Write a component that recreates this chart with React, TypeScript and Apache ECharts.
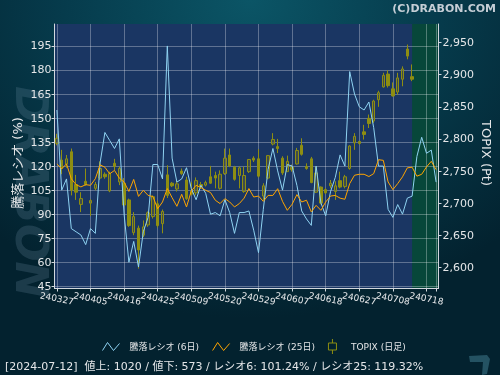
import React, { useEffect, useRef } from 'react';
import * as echarts from 'echarts';

const dates = [
  '240327','240328','240329','240401','240402','240403','240404','240405',
  '240408','240409','240410','240411','240412','240415','240416','240417','240418','240419',
  '240422','240423','240424','240425','240426','240430','240501','240502','240507','240508','240509','240510',
  '240513','240514','240515','240516','240517','240520','240521','240522','240523','240524',
  '240527','240528','240529','240530','240531','240603','240604','240605','240606','240607',
  '240610','240611','240612','240613','240614','240617','240618','240619','240620','240621',
  '240624','240625','240626','240627','240628','240701','240702','240703','240704','240705',
  '240708','240709','240710','240711','240712','240716','240717','240718','240719','240722'
];

const ratio6 = [
  155, 105, 112, 81, 79, 77, 71, 81, 78, 122,
  141, 136, 131, 137, 90, 60, 73, 57, 79, 88,
  121, 121, 112, 195, 125, 110, 112, 119, 106, 99,
  108, 103, 90, 91, 89, 99, 91, 78, 91, 91,
  92, 80, 66, 93, 118, 131, 117, 105, 121, 120,
  108, 92, 87, 83, 120, 97, 89, 104, 113, 127,
  120, 179, 165, 157, 155, 160, 144, 120, 120, 93,
  88, 96, 90, 100, 101.24, 126, 138, 128, 130, 110
];

const ratio25 = [
  121.4, 118.3, 121.4, 112.1, 108.4, 107, 108.4, 108, 112.1, 120.8,
  119.3, 115.2, 117.3, 112.5, 110, 104.2, 111.7, 101.1, 104.9, 101.7,
  101, 93.4, 97.6, 106, 100.3, 94.9, 102.4, 94.5, 104.5, 108,
  106.6, 104.9, 103.5, 98.7, 96.6, 99.7, 97.6, 94.5, 96.6, 100,
  106, 100.7, 101.3, 98, 101.7, 101.7, 105.9, 98, 92.4, 96.2,
  102.2, 97.6, 98.7, 91.4, 95.5, 92.4, 97.6, 101.3, 101.7, 100,
  99.3, 109.1, 114.3, 114.9, 114.9, 113.5, 115.3, 124, 123.6, 110.1,
  105.3, 109.1, 113.3, 118.9, 119.32, 113.7, 114.9, 119.5, 123, 117.8
];

// [open, close, low, high]
const topix = [
  [2793, 2801, 2790, 2808], [2767, 2754, 2745, 2783], [2761, 2769, 2755, 2775], [2780, 2720, 2712, 2785],
  [2729, 2717, 2705, 2744], [2698, 2707, 2686, 2717], [2734, 2729, 2727, 2754], [2700, 2704, 2680, 2706],
  [2723, 2729, 2720, 2733], [2739, 2754, 2736, 2765], [2745, 2741, 2738, 2748], [2719, 2746, 2717, 2749],
  [2762, 2757, 2751, 2769], [2733, 2754, 2728, 2757], [2731, 2697, 2695, 2739], [2705, 2665, 2663, 2707],
  [2654, 2679, 2650, 2686], [2661, 2627, 2598, 2665], [2650, 2663, 2647, 2673], [2666, 2685, 2663, 2687],
  [2679, 2710, 2676, 2712], [2699, 2665, 2662, 2704], [2668, 2687, 2653, 2690], [2744, 2712, 2708, 2759],
  [2731, 2727, 2725, 2733], [2722, 2730, 2718, 2735], [2750, 2746, 2744, 2754], [2736, 2707, 2705, 2741],
  [2718, 2714, 2712, 2733], [2716, 2735, 2712, 2740], [2729, 2726, 2722, 2733], [2728, 2732, 2726, 2735],
  [2741, 2731, 2730, 2758], [2743, 2739, 2723, 2749], [2723, 2745, 2721, 2751], [2746, 2770, 2744, 2785],
  [2775, 2758, 2756, 2785], [2756, 2737, 2735, 2758], [2743, 2755, 2723, 2757], [2718, 2743, 2716, 2757],
  [2749, 2768, 2747, 2768], [2770, 2767, 2764, 2773], [2769, 2742, 2740, 2784], [2711, 2727, 2705, 2731],
  [2739, 2774, 2737, 2775], [2792, 2799, 2790, 2809], [2788, 2785, 2778, 2800], [2770, 2747, 2744, 2773],
  [2749, 2765, 2749, 2774], [2756, 2752, 2749, 2760], [2761, 2782, 2760, 2786], [2790, 2776, 2774, 2801],
  [2757, 2754, 2752, 2762], [2769, 2732, 2731, 2772], [2717, 2747, 2716, 2757], [2725, 2700, 2698, 2726],
  [2721, 2716, 2714, 2723], [2727, 2731, 2723, 2736], [2718, 2727, 2705, 2734], [2735, 2725, 2723, 2749],
  [2726, 2741, 2723, 2744], [2754, 2789, 2752, 2790], [2794, 2804, 2783, 2809], [2796, 2793, 2791, 2797],
  [2811, 2807, 2799, 2822], [2832, 2824, 2817, 2838], [2828, 2859, 2825, 2861], [2861, 2872, 2850, 2875],
  [2881, 2899, 2880, 2903], [2901, 2883, 2880, 2907], [2878, 2867, 2866, 2888], [2873, 2895, 2869, 2903],
  [2893, 2909, 2882, 2913], [2940, 2929, 2924, 2947], [2897, 2893, 2890, 2916]
];

const leftTicks = [45, 60, 75, 90, 105, 120, 135, 150, 165, 180, 195];
const rightTicks = [2600, 2650, 2700, 2750, 2800, 2850, 2900, 2950];

const advances = 1020;
const declines = 573;
const currentIndex = 74;
const labelStep = 7;

const NAME6 = '騰落レシオ (6日)';
const NAME25 = '騰落レシオ (25日)';
const NAMETOPIX = 'TOPIX (日足)';

const CYAN = '#8fd3f2';
const ORANGE = '#ffa500';
const OLIVE = '#8e8e12';
const FONT = '"DejaVu Sans", "Noto Sans CJK JP", sans-serif';
const AXIS_COLOR = '#d2d8de';
const GRID_LINE = 'rgba(255,255,255,0.3)';
const TEXT = '#e4e6e8';

function fmtDate(s: string) {
  return '20' + s.slice(0, 2) + '-' + s.slice(2, 4) + '-' + s.slice(4, 6);
}

export default function App() {
  const ref = useRef<HTMLDivElement>(null);

  useEffect(() => {
    if (!ref.current) return;
    const chart = echarts.init(ref.current, null, { renderer: 'svg' });
    const info =
      '[' + fmtDate(dates[currentIndex]) + ']  値上: ' + advances + ' / 値下: ' + declines +
      ' / レシオ6: ' + ratio6[currentIndex].toFixed(2) + '% / レシオ25: ' + ratio25[currentIndex].toFixed(2) + '%';

    const option: any = {
      animation: false,
      grid: {
        left: 54.5, top: 24, width: 384, height: 264.5,
        show: true, backgroundColor: '#1a3663', borderWidth: 0,
      },
      legend: {
        left: 100, top: 336.5, padding: 0,
        itemWidth: 17, itemHeight: 15, itemGap: 11,
        selectedMode: false,
        textStyle: { color: TEXT, fontSize: 9, fontFamily: FONT, padding: [0, 0, 0, 5] },
        data: [
          { name: NAME6, icon: 'path://M0,9L5,1L11,9L17,2', itemStyle: { color: 'none', borderColor: CYAN, borderWidth: 1 } },
          { name: NAME25, icon: 'path://M0,9L5,1L11,9L17,2', itemStyle: { color: 'none', borderColor: ORANGE, borderWidth: 1 } },
          { name: NAMETOPIX, icon: 'path://M4,0L4,4M0,4L8,4L8,11L0,11ZM4,11L4,15', itemStyle: { color: 'none', borderColor: OLIVE, borderWidth: 1 } },
        ],
      },
      xAxis: {
        type: 'category',
        data: dates,
        boundaryGap: true,
        z: 1.5,
        axisLine: { lineStyle: { color: AXIS_COLOR, width: 1 } },
        axisTick: { show: true, interval: labelStep - 1, alignWithLabel: true, length: 3, lineStyle: { color: AXIS_COLOR } },
        axisLabel: {
          interval: 0,
          formatter: (v: string, idx: number) => (idx % labelStep === 0 ? v : ''),
          rotate: -11, align: 'center', verticalAlign: 'middle', margin: 10,
          color: TEXT, fontSize: 9, fontFamily: FONT,
        },
        splitLine: { show: true, interval: labelStep - 1, alignWithLabel: true, lineStyle: { color: GRID_LINE, width: 1 } },
      },
      yAxis: [
        {
          type: 'value', position: 'left', min: 43.6, max: 208.7, z: 1.5,
          axisLine: { show: true, lineStyle: { color: AXIS_COLOR } },
          axisTick: { show: true, length: 3, customValues: leftTicks, lineStyle: { color: AXIS_COLOR } },
          axisLabel: { customValues: leftTicks, margin: 3, color: TEXT, fontSize: 11, fontFamily: FONT },
          splitLine: { show: true, lineStyle: { color: GRID_LINE, width: 1 } },
        },
        {
          type: 'value', position: 'right', min: 2567, max: 2979, z: 1.5,
          axisLine: { show: true, lineStyle: { color: AXIS_COLOR } },
          axisTick: { show: true, length: 3, customValues: rightTicks, lineStyle: { color: AXIS_COLOR } },
          axisLabel: {
            customValues: rightTicks, margin: 4, color: TEXT, fontSize: 11, fontFamily: FONT,
            formatter: (v: number) => v.toLocaleString('en-US'),
          },
          splitLine: { show: false },
        },
      ],
      series: [
        {
          name: NAMETOPIX, type: 'candlestick', yAxisIndex: 1, data: topix, barWidth: 3,
          itemStyle: {
            color: 'rgba(95,95,55,0.55)', color0: OLIVE,
            borderColor: OLIVE, borderColor0: OLIVE, borderWidth: 1,
          },
        },
        {
          name: NAME6, type: 'line', yAxisIndex: 0, data: ratio6, symbol: 'none',
          lineStyle: { color: CYAN, width: 1 }, itemStyle: { color: CYAN },
          markArea: {
            silent: true, z: 1,
            itemStyle: { color: '#07473a' },
            data: [[{ xAxis: dates[currentIndex] }, {}]],
          },
        },
        {
          name: NAME25, type: 'line', yAxisIndex: 0, data: ratio25, symbol: 'none',
          lineStyle: { color: ORANGE, width: 1 }, itemStyle: { color: ORANGE },
        },
      ],
      graphic: [
        {
          type: 'text', z: -1, x: 31, y: 192, rotation: -Math.PI / 2,
          style: {
            text: 'DRABON', fill: 'rgba(120,150,172,0.22)',
            font: 'italic bold 44px "DejaVu Sans"', align: 'center', verticalAlign: 'middle',
          },
        },
        {
          type: 'text', x: 496, y: 8,
          style: { text: '(C)DRABON.COM', fill: '#c5ced6', font: 'bold 11px "DejaVu Sans"', align: 'right', verticalAlign: 'middle' },
        },
        {
          type: 'text', x: 17.5, y: 163, rotation: Math.PI / 2,
          style: { text: '騰落レシオ (%)', fill: TEXT, font: '13px ' + FONT, align: 'center', verticalAlign: 'middle' },
        },
        {
          type: 'text', x: 486, y: 153, rotation: -Math.PI / 2,
          style: { text: 'TOPIX (Pt)', fill: TEXT, font: '13px ' + FONT, align: 'center', verticalAlign: 'middle' },
        },
        {
          type: 'text', x: 5, y: 366,
          style: { text: info, fill: TEXT, font: '11px ' + FONT, align: 'left', verticalAlign: 'middle' },
        },
        {
          type: 'polygon', z: -1,
          shape: { points: [[469, 356], [487, 355], [490, 359], [487, 374], [482, 375], [483, 362], [470, 362]] },
          style: { fill: '#245262' },
        },
      ],
    };
    chart.setOption(option);
    return () => chart.dispose();
  }, []);

  return (
    <div
      ref={ref}
      style={{
        position: 'fixed', left: 0, top: 0, width: 500, height: 375,
        background: 'radial-gradient(ellipse 75% 85% at 50% 0%, #0b5566 0%, #063b4c 50%, #03222f 100%)',
      }}
    />
  );
}
